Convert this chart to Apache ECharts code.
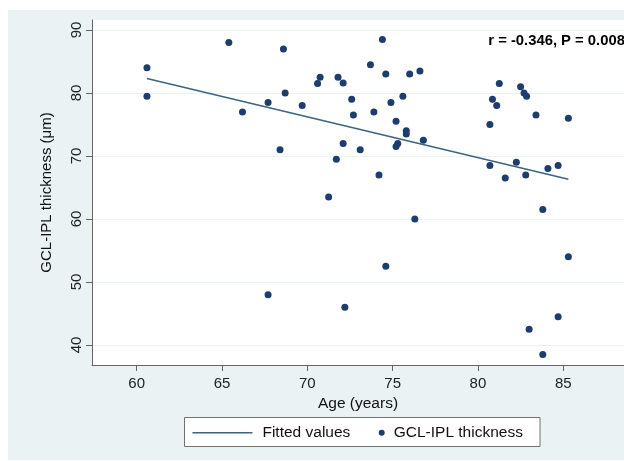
<!DOCTYPE html>
<html>
<head>
<meta charset="utf-8">
<script src="https://cdn.jsdelivr.net/npm/echarts@6/dist/echarts.min.js"></script>
<style>html,body{margin:0;padding:0;background:#fff;}#c{width:624px;height:461px;}</style>
</head>
<body>
<div id="c"></div>
<script>
var ages = [60.6,60.6,65.4,68.6,66.2,67.7,68.7,69.7,70.6,70.75,71.8,72.1,72.6,72.7,68.4,72.1,71.7,73.1,73.7,74.4,74.6,73.9,74.9,75.6,76,76.6,75.2,75.8,75.8,75.3,75.2,76.8,74.2,80.7,80.85,81.1,81.25,82.5,82.7,82.85,83.4,85.3,80.7,82.25,81.6,82.8,84.1,84.7,71.25,67.7,72.2,76.3,83.8,74.6,85.3,84.7,83,83.8];
var thickness = [84,79.5,88,87,77,78.5,80,78,81.5,82.5,82.5,81.6,79,76.5,71,72,69.5,71,84.5,88.5,83,77,78.5,79.5,83,83.5,75.5,74,73.5,72,71.5,72.5,67,75,79,78,81.5,81,80,79.5,76.5,76,68.5,69,66.5,67,68,68.5,63.5,48,46,60,61.5,52.5,54,44.5,42.5,38.5];
var fitAges = [60.6, 85.3];
var fitValues = [82.3, 66.3];
var xTicks = [60,65,70,75,80,85];
var yTicks = [40,50,60,70,80,90];
var annotation = 'r = -0.346, P = 0.008';

var scatterData = ages.map(function(a,i){return [a, thickness[i]];});
var fitData = fitAges.map(function(a,i){return [a, fitValues[i]];});
var FONT = 'Liberation Sans';

var chart = echarts.init(document.getElementById('c'));
chart.setOption({
  backgroundColor: '#ffffff',
  animation: false,
  grid: {left: 92, top: 20, right: -8, bottom: 96, show: true, backgroundColor: '#ffffff', borderWidth: 0},
  xAxis: {
    type: 'value', min: 57.38, max: 88.56,
    name: 'Age (years)', nameLocation: 'middle', nameGap: 26,
    nameTextStyle: {fontFamily: FONT, fontSize: 15.5, color: '#111'},
    axisLine: {show: true, onZero: false, lineStyle: {color: '#666', width: 1}},
    axisTick: {show: true, length: 6, lineStyle: {color: '#666'}, customValues: xTicks},
    axisLabel: {fontFamily: FONT, fontSize: 15, color: '#222', margin: 11, customValues: xTicks},
    splitLine: {show: false}
  },
  yAxis: {
    type: 'value', min: 36.83, max: 91.59,
    name: 'GCL-IPL thickness (μm)', nameLocation: 'middle', nameGap: 38, nameRotate: 90,
    nameTextStyle: {fontFamily: FONT, fontSize: 15, color: '#111'},
    axisLine: {show: true, onZero: false, lineStyle: {color: '#666', width: 1}},
    axisTick: {show: true, length: 6, lineStyle: {color: '#666'}, customValues: yTicks},
    axisLabel: {fontFamily: FONT, fontSize: 15, color: '#222', rotate: 90, margin: 8, customValues: yTicks},
    splitLine: {show: true, lineStyle: {color: '#eaf2f3', width: 1}}
  },
  legend: [
    {data: ['Fitted values'], left: 191.7, top: 424.7, padding: 0, itemWidth: 60, itemHeight: 16,
     itemStyle: {opacity: 0}, lineStyle: {width: 1.5},
     textStyle: {fontFamily: FONT, fontSize: 15.5, color: '#111', padding: [0,0,0,5]}},
    {data: ['GCL-IPL thickness'], left: 378.7, top: 424.7, padding: 0, itemWidth: 6, itemHeight: 6,
     textStyle: {fontFamily: FONT, fontSize: 15.5, color: '#111', padding: [0,0,0,4]}}
  ],
  graphic: [
    {type: 'rect', z: -10, silent: true, shape: {x: 8, y: 10, width: 616, height: 450}, style: {fill: '#eaf2f3'}},
    {type: 'rect', z: 1, silent: true, shape: {x: 184.5, y: 417.5, width: 355.5, height: 29}, style: {fill: '#ffffff', stroke: '#707070', lineWidth: 1}},
    {type: 'text', z: 10, x: 488.3, y: 41, style: {text: annotation, fontFamily: FONT, fontWeight: 'bold', fontSize: 14.8, fill: '#000', verticalAlign: 'middle', align: 'left'}}
  ],
  series: [
    {name: 'Fitted values', type: 'line', data: fitData, symbol: 'none', showSymbol: false,
     lineStyle: {color: '#3c6384', width: 1.5}, itemStyle: {color: '#3c6384'}, z: 3},
    {name: 'GCL-IPL thickness', type: 'scatter', data: scatterData, symbol: 'circle', symbolSize: 7,
     itemStyle: {color: '#1c3d6e', opacity: 1}, z: 2}
  ]
});
</script>
</body>
</html>
